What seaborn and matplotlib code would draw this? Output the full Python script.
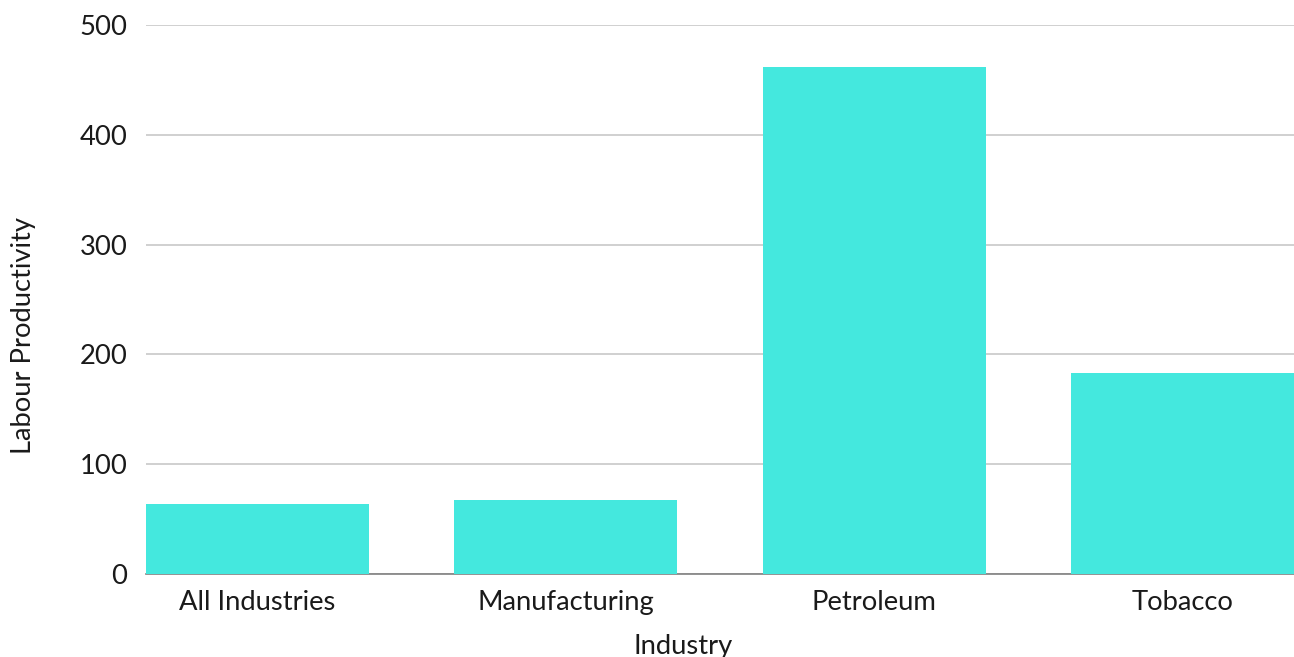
import matplotlib
matplotlib.use("Agg")
import matplotlib.pyplot as plt
import seaborn as sns
import pandas as pd

industries = ["All Industries", "Manufacturing", "Petroleum", "Tobacco"]
productivity = [63.8, 67.4, 461.7, 183.0]

df = pd.DataFrame({"Industry": industries, "Labour Productivity": productivity})

sns.set_style("white")
plt.rcParams["font.family"] = ["Lato", "DejaVu Sans"]

fig = plt.figure(figsize=(12.94, 6.57), dpi=100)
ax = fig.add_axes([146 / 1294, 1 - 574 / 657, 1 - 146 / 1294, (574 - 25) / 657])

sns.barplot(data=df, x="Industry", y="Labour Productivity", color="#44E8DE",
            saturation=1, width=0.723, linewidth=0, ax=ax, zorder=3)

ax.set_ylim(0, 500)
ax.set_xlim(-0.3615, 3.3615)
ax.set_yticks([0, 100, 200, 300, 400, 500])
ax.yaxis.grid(True, color="#C8C8C8", linewidth=1.2, zorder=0)
ax.set_axisbelow(True)
for s in ["top", "right", "left"]:
    ax.spines[s].set_visible(False)
ax.spines["bottom"].set_color("#808080")
ax.spines["bottom"].set_linewidth(1.2)
ax.tick_params(axis="both", length=0, labelsize=19.7, labelcolor="#1a1a1a")
ax.tick_params(axis="y", pad=13.5)
ax.tick_params(axis="x", pad=11.5)
ax.set_xlabel("Industry", fontsize=19.7, color="#1a1a1a")
ax.set_ylabel("Labour Productivity", fontsize=19.7, color="#1a1a1a")
ax.xaxis.set_label_coords(0.468, -0.109)
ax.yaxis.set_label_coords(-0.096, 0.435)

fig.savefig("out.png", dpi=100)
